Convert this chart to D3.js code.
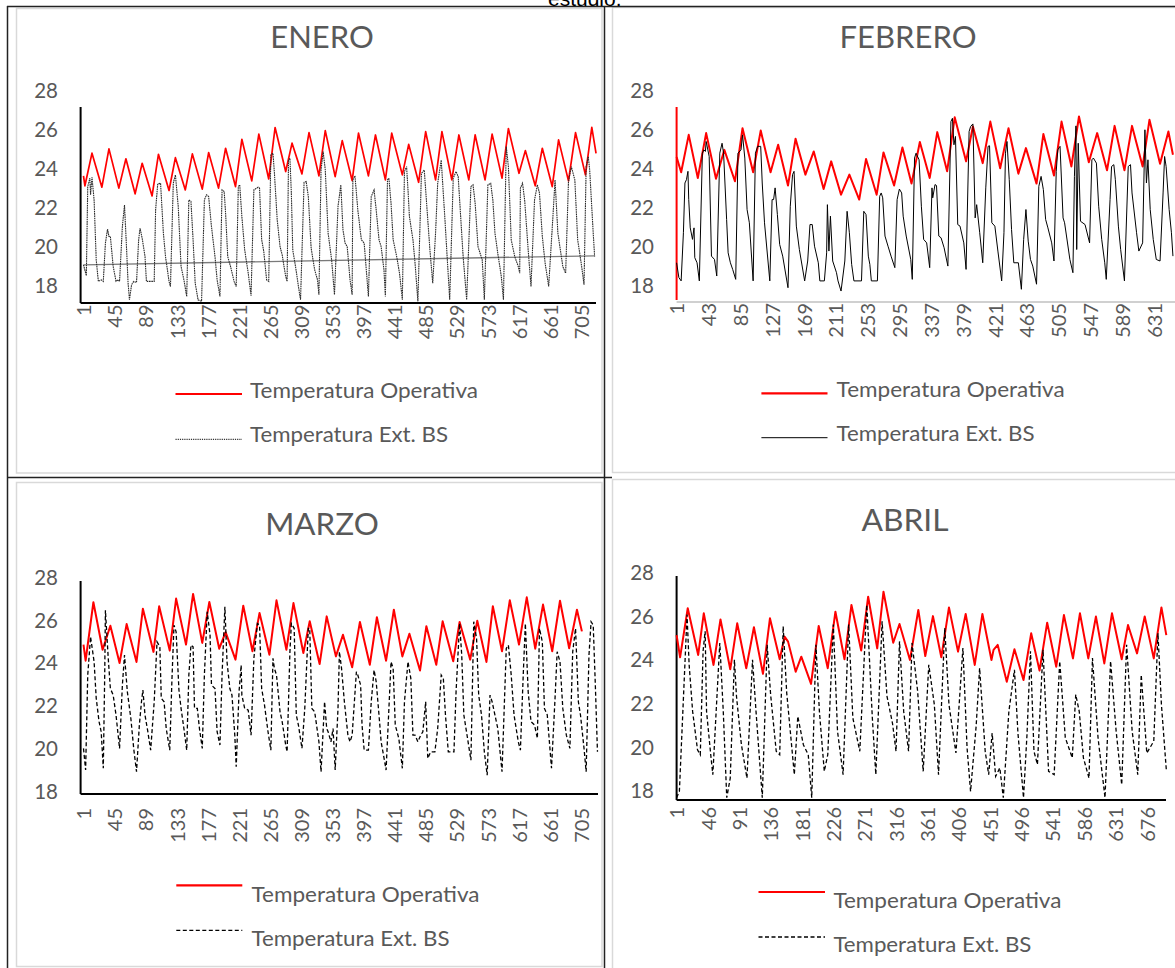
<!DOCTYPE html>
<html><head><meta charset="utf-8">
<script src="https://cdn.jsdelivr.net/npm/d3@7"></script>
<style>html,body{margin:0;padding:0;background:#fff;}svg{display:block;}</style>
</head><body>
<svg id="chart" width="1175" height="968"></svg>
<script>
// ---------------- DATA (hour, °C) ----------------
const yTicks = [18, 20, 22, 24, 26, 28];
const ticksEnero = [1,45,89,133,177,221,265,309,353,397,441,485,529,573,617,661,705];
const ticksFebrero = [1,43,85,127,169,211,253,295,337,379,421,463,505,547,589,631];
const ticksMarzo = [1,45,89,133,177,221,265,309,353,397,441,485,529,573,617,661,705];
const ticksAbril = [1,46,91,136,181,226,271,316,361,406,451,496,541,586,631,676];
const serieNames = ["Temperatura Operativa", "Temperatura Ext. BS"];

const eneroOperativa = [[1,23.61],[3,23.10],[13,24.77],[27,23.03],[37,24.99],[51,22.98],[61,24.48],[74,22.69],[84,24.25],[98,22.58],[107,24.71],[122,22.86],[131,24.54],[145,22.89],[155,24.73],[169,22.93],[178,24.80],[192,22.98],[202,25.02],[216,23.06],[225,25.48],[239,23.35],[249,25.74],[263,23.45],[272,26.08],[287,23.83],[296,25.28],[310,23.71],[320,25.82],[334,23.61],[343,25.92],[357,23.57],[367,25.41],[381,23.37],[390,25.79],[404,23.61],[414,25.70],[428,23.40],[437,25.79],[452,23.66],[461,25.22],[475,23.28],[485,25.87],[499,23.40],[508,25.87],[522,23.40],[532,25.70],[546,23.40],[555,25.70],[569,23.40],[579,25.74],[593,23.49],[602,26.03],[617,23.74],[626,24.90],[640,23.10],[650,25.02],[664,23.06],[673,25.45],[687,23.35],[697,25.82],[711,23.66],[720,26.09],[726,24.76]];
const eneroExterior = [[1,19.06],[5,18.50],[7,23.06],[10,23.49],[11,22.64],[13,23.54],[16,22.38],[19,19.31],[22,18.21],[26,18.29],[29,18.21],
[32,20.17],[35,20.88],[37,20.51],[39,20.51],[43,18.97],[47,18.21],[50,18.29],[52,18.21],
[56,21.02],[59,22.12],[62,19.82],[64,18.16],[66,17.27],[69,18.04],[72,18.21],[76,18.16],
[79,20.34],[81,20.93],[84,20.42],[88,19.48],[90,18.21],[101,18.21],
[103,21.87],[106,23.20],[110,23.23],[114,20.68],[117,19.48],[122,18.21],[124,17.95],
[128,23.23],[131,23.66],[135,22.04],[139,18.97],[143,18.29],[147,17.44],
[150,22.38],[153,22.30],[156,20.34],[159,18.12],[163,17.27],[168,17.19],
[172,22.38],[175,22.64],[178,22.55],[182,21.02],[187,19.48],[190,18.29],[194,17.44],
[197,22.89],[200,22.81],[202,21.70],[205,19.48],[209,18.97],[214,18.21],[217,17.95],
[220,23.06],[222,23.15],[225,21.53],[229,19.82],[234,18.63],[238,17.48],
[242,22.89],[248,23.03],[250,22.98],[253,20.34],[256,19.74],[260,18.29],[263,18.21],
[266,24.68],[269,24.77],[271,23.78],[275,21.36],[279,19.99],[282,19.57],[287,18.46],[289,18.21],
[291,24.42],[293,24.51],[295,22.72],[297,19.82],[302,18.72],[305,17.95],[308,17.27],
[313,23.27],[316,23.32],[319,22.55],[323,19.91],[328,18.80],[332,18.29],[334,17.53],
[337,23.91],[340,24.85],[343,23.91],[347,20.68],[352,19.31],[356,17.53],
[361,22.04],[365,23.15],[368,20.85],[371,20.17],[374,19.99],[378,18.29],[381,17.53],
[382,23.40],[385,23.61],[389,21.87],[394,20.34],[398,20.17],[401,18.80],[404,17.44],
[408,22.55],[412,22.89],[415,21.87],[419,20.34],[422,19.99],[426,18.80],[428,17.44],
[431,23.40],[433,23.49],[436,22.21],[439,20.34],[444,19.48],[448,18.63],[452,17.27],
[455,23.83],[458,24.08],[460,22.89],[462,21.53],[467,20.34],[470,19.14],[474,17.19],
[479,23.74],[483,23.91],[486,22.38],[491,19.82],[495,18.12],
[499,20.68],[502,23.23],[507,24.42],[512,21.53],[519,17.27],
[524,23.49],[528,23.83],[531,23.57],[538,19.48],[543,17.27],
[549,23.06],[552,23.15],[555,22.21],[559,19.99],[565,19.31],[568,17.27],
[573,23.15],[577,23.23],[580,22.38],[583,20.68],[587,19.65],[592,18.46],[595,17.27],
[599,25.11],[602,24.08],[606,20.34],[611,19.48],[616,18.97],[618,18.63],
[619,22.98],[622,23.23],[625,22.38],[630,19.82],[634,17.95],
[639,22.38],[643,23.15],[646,22.72],[650,20.51],[654,19.14],[659,17.95],
[665,21.53],[668,23.40],[672,20.68],[679,18.97],[683,18.63],
[687,23.32],[691,24.08],[696,23.40],[700,20.34],[705,19.14],[709,18.04],
[712,24.08],[715,24.59],[717,23.91],[722,20.68],[724,19.48]];
const eneroTendencia = [[1,19.06],[724,19.52]];

const febreroOperativa = [[1,24.56],[7,23.78],[17,25.70],[29,23.49],[40,25.79],[53,23.45],[64,24.93],[78,23.32],[88,26.04],[102,23.78],[112,25.92],[125,23.78],[135,25.19],[148,23.10],[158,25.50],[171,23.66],[182,24.85],[195,22.92],[205,24.34],[218,22.63],[229,23.66],[242,22.38],[251,24.46],[265,22.63],[274,24.80],[288,23.10],[299,25.05],[311,23.20],[322,25.33],[335,23.49],[345,25.84],[358,23.83],[368,26.60],[383,24.34],[392,26.13],[405,24.25],[415,26.38],[428,23.99],[439,26.04],[452,23.71],[462,25.02],[476,23.20],[485,25.74],[499,23.61],[509,26.38],[522,24.08],[532,26.64],[545,24.29],[556,25.79],[569,23.88],[579,26.16],[592,23.88],[602,26.16],[616,24.08],[625,26.47],[639,24.22],[650,25.87],[656,24.68]];
const febreroExterior = [[1,19.14],[4,18.38],[7,18.21],[10,20.68],[12,23.23],[14,23.40],[16,23.83],[17,22.38],[19,20.93],[22,20.34],[24,20.93],[25,19.40],[28,19.14],[31,18.21],
[35,24.76],[37,24.93],[39,24.85],[40,25.36],[44,24.59],[47,19.48],[51,19.31],[54,18.46],
[58,24.76],[61,25.27],[63,24.76],[67,21.36],[69,19.65],[72,19.14],[75,18.80],[79,18.29],
[82,24.76],[86,24.93],[88,25.70],[91,24.51],[94,21.87],[97,21.19],[102,18.21],
[105,24.76],[108,25.11],[112,25.11],[114,23.23],[117,21.19],[124,18.21],
[127,22.38],[129,22.38],[131,22.98],[134,21.61],[137,20.08],[141,19.48],[148,17.86],
[151,22.04],[154,23.66],[156,23.83],[159,21.02],[163,19.82],[170,18.21],
[174,19.23],[177,21.10],[180,21.10],[183,19.99],[188,19.14],[190,18.21],[196,18.21],
[199,19.65],[200,22.12],[202,19.74],[204,21.53],[207,19.23],[212,18.63],[214,18.21],[218,17.69],
[223,19.23],[226,21.78],[229,20.68],[232,19.06],[235,18.21],[245,18.21],
[248,21.78],[251,21.61],[254,19.48],[256,19.06],[258,18.21],[266,18.21],
[269,22.55],[271,22.72],[273,22.47],[276,20.51],[280,19.99],[284,19.48],[289,18.89],
[292,22.38],[295,22.92],[298,22.72],[300,21.53],[304,20.51],[310,19.31],[312,18.29],
[315,24.51],[317,24.76],[321,24.42],[324,22.04],[327,20.34],
[331,20.16],[335,18.89],[338,22.98],[339,22.47],[342,23.15],[344,23.10],[347,20.51],[350,20.42],[354,19.91],[359,18.97],
[363,26.38],[365,26.55],[367,25.19],[369,25.62],[372,21.10],[375,21.02],[380,20.16],[383,18.80],
[387,25.87],[389,26.13],[392,26.26],[395,21.44],[397,22.12],[401,20.68],[405,19.14],
[409,22.98],[412,25.11],[414,25.14],[417,21.19],[421,21.02],[425,19.74],[430,18.21],
[433,20.68],[435,24.76],[437,25.36],[440,23.40],[443,20.85],[446,19.14],[452,19.14],[456,17.78],
[459,20.34],[462,21.87],[465,20.25],[468,19.31],[471,18.97],[476,18.04],
[479,23.06],[482,23.57],[485,22.89],[488,21.36],[491,20.93],[496,20.16],[499,19.23],
[502,23.83],[504,24.93],[507,25.11],[511,21.44],[513,21.19],[520,19.31],[524,18.63],
[526,23.57],[528,26.16],[529,19.82],[531,25.27],[534,21.27],[540,21.10],[546,20.16],
[549,24.42],[551,24.51],[555,24.25],[558,22.04],[562,20.34],[566,19.14],[568,18.29],
[573,22.38],[575,24.08],[578,24.17],[580,23.40],[584,21.02],[587,19.82],[592,18.21],
[597,24.08],[600,24.17],[602,22.72],[608,20.68],[611,19.74],[616,20.16],
[619,25.96],[621,23.23],[623,24.42],[626,21.87],[630,20.34],[634,19.31],[639,19.23],
[643,22.72],[645,24.59],[647,24.08],[651,21.87],[654,20.68],[656,19.48]];

const marzoOperativa = [[1,24.84],[4,24.09],[15,26.82],[28,24.60],[39,25.72],[52,23.98],[62,25.80],[76,24.03],[85,26.52],[100,24.50],[108,26.63],[123,24.56],[132,26.99],[146,24.84],[156,27.21],[169,24.92],[179,26.83],[193,24.65],[202,25.42],[216,24.14],[227,26.66],[240,24.53],[250,26.32],[264,24.37],[274,26.91],[288,24.60],[298,26.78],[312,24.45],[321,25.93],[335,23.93],[345,26.16],[358,24.29],[368,25.30],[381,23.78],[392,25.90],[406,23.90],[416,26.12],[429,24.09],[440,26.47],[452,24.29],[462,25.35],[477,23.63],[486,25.70],[500,23.90],[509,25.93],[524,24.06],[533,25.90],[548,24.14],[558,25.96],[571,24.03],[580,26.63],[593,24.53],[604,26.91],[617,24.84],[628,27.05],[640,24.65],[651,26.71],[664,24.53],[675,26.89],[688,24.67],[699,26.47],[706,25.46]];
const marzoExterior = [[1,19.99],[4,18.98],[7,23.42],[11,25.21],[16,24.04],[19,22.33],[23,21.24],[26,20.77],[29,19.06],[31,23.42],[32,26.45],[36,24.20],[39,22.79],[43,22.48],[47,21.55],[52,19.99],[56,22.95],[59,24.35],[63,22.64],[68,21.39],[72,19.99],[76,18.90],[80,21.08],[83,22.17],[85,22.72],[88,21.55],[92,20.77],[96,19.91],[101,22.17],[105,24.97],[109,24.74],[111,22.33],[115,22.17],[118,20.92],[123,19.91],[126,23.11],[129,25.75],[132,25.44],[136,22.72],[139,21.86],[143,20.92],[147,19.91],[150,23.42],[153,24.82],[156,24.74],[158,21.86],[162,21.86],[165,20.92],[169,19.99],[172,23.42],[176,26.38],[180,25.29],[182,22.95],[187,22.79],[190,20.77],[194,20.15],[197,23.42],[201,26.61],[204,24.04],[208,22.79],[211,22.48],[215,20.61],[217,19.13],[221,22.64],[224,23.88],[225,22.48],[229,21.86],[234,21.78],[238,20.61],[242,24.20],[247,25.83],[250,25.75],[253,22.79],[257,22.02],[262,20.77],[266,19.91],[269,24.20],[271,23.73],[274,23.42],[279,21.70],[282,21.24],[287,20.15],[289,19.83],[293,24.51],[295,25.83],[299,25.60],[302,21.55],[305,21.08],[310,19.99],[314,21.86],[319,25.60],[321,25.60],[324,21.86],[328,21.70],[334,20.30],[337,18.90],[342,22.17],[345,20.92],[347,20.77],[351,20.30],[354,20.92],[357,18.98],[361,21.86],
[363,24.51],[366,23.73],[370,22.17],[375,20.61],[378,20.30],[381,20.61],[387,23.57],[389,23.42],[393,22.95],[395,21.08],[398,19.91],[404,19.91],[408,22.17],[412,23.65],[415,23.11],[419,21.55],[422,20.30],[427,19.37],[429,18.98],[433,21.86],[436,24.04],[439,23.73],[442,21.08],[447,20.46],[452,19.06],[455,22.17],[460,24.04],[464,23.26],[467,20.61],[470,20.61],[474,20.30],[478,20.61],[481,20.77],[485,22.17],[488,19.52],[492,19.83],[498,19.83],[502,20.92],[507,23.42],[510,23.26],[513,21.55],[517,19.83],[525,19.83],[528,22.64],[533,25.83],[536,24.35],[539,21.55],[545,20.30],[549,19.44],[553,25.91],[557,25.13],[560,22.48],[564,21.55],[568,19.83],[572,18.74],[576,22.48],[579,22.17],[583,21.55],[587,20.92],[593,18.90],[599,24.66],[602,24.82],[606,23.42],[610,21.55],[616,20.30],[619,19.91],[623,23.42],[626,25.83],[630,22.64],[634,21.24],[639,21.08],[643,20.46],[646,25.60],[650,24.97],[653,21.86],[657,21.55],[663,19.06],[668,22.33],[671,24.51],[675,24.04],[679,21.86],[684,20.61],[689,19.99],[693,24.51],[697,25.60],[701,22.17],[704,21.55],[709,19.99],[712,18.90],[716,24.35],[719,25.91],[722,25.75],[725,22.95],[728,19.83]];

const abrilOperativa = [[1,25.12],[6,24.10],[17,26.35],[32,24.21],[40,26.12],[54,23.75],[64,25.84],[78,23.55],[88,25.66],[101,23.60],[112,25.48],[125,23.34],[135,25.89],[149,24.01],[156,25.05],[161,24.82],[172,23.44],[180,24.13],[194,22.88],[205,25.54],[218,23.60],[229,26.19],[242,24.01],[252,26.50],[266,24.41],[276,26.88],[289,24.51],[298,27.11],[312,24.77],[321,25.63],[336,23.98],[348,26.27],[358,24.16],[369,25.99],[381,24.10],[392,26.39],[405,24.36],[416,26.09],[429,23.75],[440,26.09],[453,23.98],[456,24.44],[462,24.67],[475,22.98],[486,24.47],[499,23.06],[510,25.20],[522,23.49],[533,25.69],[546,23.67],[557,26.04],[570,24.05],[580,26.12],[592,24.05],[603,25.97],[615,23.82],[626,26.12],[640,24.01],[649,25.58],[662,24.28],[673,25.97],[686,24.05],[697,26.39],[704,25.12]];
const abrilExterior = [[1,17.66],[5,17.95],[16,26.06],[19,23.76],[24,21.62],[31,19.86],[35,19.63],[39,24.38],[42,25.30],[44,21.62],[50,19.63],[53,18.72],[63,24.76],[68,21.62],[73,17.66],[78,18.56],[84,23.99],[87,22.30],[94,20.10],[102,18.56],[110,23.99],[115,21.62],[124,17.66],[131,24.68],[136,22.38],[144,19.79],[149,19.63],[154,25.52],[159,22.50],[170,18.72],[175,21.39],[183,20.09],[190,19.63],[195,17.66],[201,24.68],[206,21.62],[213,18.87],[218,19.63],[226,25.60],[232,20.71],[240,18.72],[248,25.60],[254,21.32],[264,19.79],[274,26.51],[282,21.32],[287,18.72],[296,25.75],[303,22.32],[311,21.06],[316,19.79],[321,24.83],[327,21.62],[334,19.79],[339,24.76],[347,22.55],[355,18.87],[363,23.76],[371,21.93],[377,18.72],[386,25.44],[392,21.93],[402,19.71],[412,24.53],[418,19.94],[423,17.95],[431,20.94],[436,23.61],[444,19.79],[449,18.72],[454,20.63],[459,18.64],[465,19.03],[470,17.66],[478,21.62],[486,23.53],[491,20.63],[499,17.66],[504,20.55],[509,24.38],[514,19.79],[519,19.18],[527,24.45],[535,18.87],[543,18.72],[551,23.92],[559,20.41],[569,19.49],[574,22.39],[579,21.62],[585,19.49],[593,18.56],[598,24.07],[606,20.41],[616,17.66],[624,23.92],[632,20.71],[640,18.26],[647,24.68],[655,20.71],[663,18.72],[668,23.30],[676,19.71],[686,20.25],[692,25.21],[697,21.93],[704,18.94]];

// ---------------- LAYOUT ----------------
const FONT = "Lato, 'Open Sans', sans-serif";
const TXT = "#595959";
const svg = d3.select("#chart");

const frames = svg.append("g");
[[16.5,8.5,585.5,464.5],[612.5,7.5,570,465],[16.5,482.5,585.5,484],[612.5,479.5,570,495]].forEach(r=>{
  frames.append("rect").attr("x",r[0]).attr("y",r[1]).attr("width",r[2]).attr("height",r[3])
    .attr("fill","none").attr("stroke","#d9d9d9").attr("stroke-width",1.5);
});
[[7.5,6,7.5,968],[604.5,6,604.5,968],[7,6.5,1175,6.5],[7,477.5,612,477.5]].forEach(l=>{
  frames.append("line").attr("x1",l[0]).attr("y1",l[1]).attr("x2",l[2]).attr("y2",l[3])
    .attr("stroke","#222").attr("stroke-width",1.5);
});
svg.append("text").attr("x",548).attr("y",6).attr("font-family","'Liberation Sans', Arial, sans-serif")
  .attr("font-size",21).attr("fill","#000").text("estudio.");

const panels = [
 {title:"ENERO", tx:322, ty:48.3, tw:103.5, op:eneroOperativa, ext:eneroExterior, trend:eneroTendencia,
  ticks:ticksEnero, xd:[1,705], xr:[83.5,581.2], yr:[285.5,90], ax:[80.6,596], ay:[107,303],
  ylx:58, xlt:304.5, yAxisColor:"#000", xAxisColor:"#000", opW:1.7,
  extStyle:{c:"#2a2a2a", w:1.1, d:"1.6,0.7"}, legStyle:{c:"#000", w:1, d:"1.2,1"},
  leg:{x1:175.5,x2:242,y1:394,y2:439.3,tx:250,b1:398,b2:442}},
 {title:"FEBRERO", tx:908, ty:48.3, tw:137, op:febreroOperativa, ext:febreroExterior,
  ticks:ticksFebrero, xd:[1,631], xr:[676.6,1154], yr:[285,90], ax:[676.6,1175], ay:[107,300],
  ylx:654, xlt:303, yAxisColor:"#ff0000", xAxisColor:"#d0d0d0", xAxisY:302, opW:2,
  extStyle:{c:"#000", w:1, d:null},
  leg:{x1:761.4,x2:827.5,y1:393.3,y2:437.7,tx:836.6,b1:396.7,b2:440.7}},
 {title:"MARZO", tx:322, ty:535.3, tw:113.5, op:marzoOperativa, ext:marzoExterior,
  ticks:ticksMarzo, xd:[1,705], xr:[83.5,581.2], yr:[791,577], ax:[80.6,598], ay:[581,794],
  ylx:58, xlt:808, yAxisColor:"#000", xAxisColor:"#000", opW:2,
  extStyle:{c:"#000", w:1.3, d:"4,2.5"},
  leg:{x1:176.3,x2:242.3,y1:885.3,y2:930.3,tx:251.5,b1:902,b2:946.3}},
 {title:"ABRIL", tx:905, ty:530.7, tw:87.2, op:abrilOperativa, ext:abrilExterior,
  ticks:ticksAbril, xd:[1,676], xr:[676.6,1146.8], yr:[790.3,572.3], ax:[676.6,1166], ay:[576,800],
  ylx:654, xlt:807, yAxisColor:"#000", xAxisColor:"#000", opW:2,
  extStyle:{c:"#000", w:1.3, d:"4,2.5"},
  leg:{x1:758.5,x2:825,y1:892,y2:937,tx:833.4,b1:908,b2:952}}
];

function styleLine(sel, s){
  sel.attr("fill","none").attr("stroke",s.c).attr("stroke-width",s.w);
  if (s.d) sel.attr("stroke-dasharray",s.d);
  return sel;
}

panels.forEach(p=>{
  const g = svg.append("g");
  const x = d3.scaleLinear().domain(p.xd).range(p.xr);
  const y = d3.scaleLinear().domain([18,28]).range(p.yr);

  g.append("text").attr("x",p.tx).attr("y",p.ty).attr("text-anchor","middle")
    .attr("font-family",FONT).attr("font-size",31).attr("fill",TXT)
    .attr("textLength",p.tw).attr("lengthAdjust","spacingAndGlyphs").text(p.title);

  const gy = g.append("g").attr("transform",`translate(${p.ylx},0)`)
    .call(d3.axisLeft(y).tickValues(yTicks).tickSize(0).tickPadding(0));
  gy.select(".domain").remove();
  gy.selectAll("text").attr("font-family",FONT).attr("font-size",20.5).attr("fill",TXT)
    .attr("dy","0.36em").attr("x",0);

  const gx = g.append("g").attr("transform",`translate(0,${p.xlt})`)
    .call(d3.axisBottom(x).tickValues(p.ticks).tickSize(0).tickPadding(0));
  gx.select(".domain").remove();
  gx.selectAll("text").attr("font-family",FONT).attr("font-size",20).attr("fill",TXT)
    .attr("x",0).attr("y",0).attr("dy","0.36em").attr("transform","rotate(-90)")
    .attr("text-anchor","end");

  const xAxisY = p.xAxisY || p.ay[1];
  g.append("line").attr("x1",p.ax[0]).attr("x2",p.ax[1]).attr("y1",xAxisY).attr("y2",xAxisY)
    .attr("stroke",p.xAxisColor).attr("stroke-width",2);
  g.append("line").attr("x1",p.ax[0]).attr("x2",p.ax[0]).attr("y1",p.ay[0]).attr("y2",p.ay[1])
    .attr("stroke",p.yAxisColor).attr("stroke-width",2);

  const line = d3.line().x(d=>x(d[0])).y(d=>y(d[1]));
  g.append("path").datum(p.op).attr("d",line).attr("fill","none")
    .attr("stroke","#ff0000").attr("stroke-width",p.opW).attr("stroke-linejoin","round");
  if (p.trend) {
    g.append("path").datum(p.trend).attr("d",line).attr("fill","none")
      .attr("stroke","#7a7a7a").attr("stroke-width",1.3);
  }
  styleLine(g.append("path").datum(p.ext).attr("d",line), p.extStyle);

  const L = p.leg;
  g.append("line").attr("x1",L.x1).attr("x2",L.x2).attr("y1",L.y1).attr("y2",L.y1)
    .attr("stroke","#ff0000").attr("stroke-width",2.2);
  styleLine(g.append("line").attr("x1",L.x1).attr("x2",L.x2).attr("y1",L.y2).attr("y2",L.y2), p.legStyle || p.extStyle);
  g.append("text").attr("x",L.tx).attr("y",L.b1).attr("font-family",FONT).attr("font-size",21)
    .attr("fill",TXT).attr("textLength",228).attr("lengthAdjust","spacingAndGlyphs").text(serieNames[0]);
  g.append("text").attr("x",L.tx).attr("y",L.b2).attr("font-family",FONT).attr("font-size",21)
    .attr("fill",TXT).attr("textLength",198).attr("lengthAdjust","spacingAndGlyphs").text(serieNames[1]);
});
</script>
</body></html>
